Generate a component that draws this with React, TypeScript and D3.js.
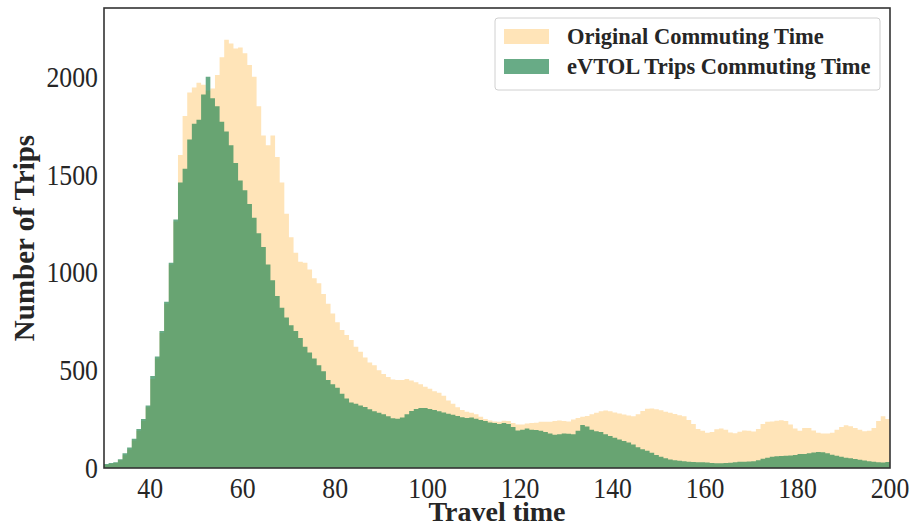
import { useEffect, useRef } from "react";
import * as d3 from "d3";

// histogram bins, 1-minute wide, starting at 30
const binStart = 30;
const binEnd = 200;

const originalCounts = [
  15, 20, 25, 40, 65, 95, 140, 190, 240, 310,
  455, 560, 690, 840, 1040, 1260, 1600, 1800, 1920, 1945,
  1970, 1960, 1930, 1940, 2010, 2100, 2190, 2170, 2145, 2150,
  2120, 2060, 2000, 1850, 1700, 1650, 1700, 1590, 1460, 1300,
  1180, 1100, 1055, 1050, 1015, 970, 945, 890, 840, 790,
  745, 705, 680, 655, 620, 595, 565, 540, 525, 500,
  480, 465, 452, 450, 450, 455, 448, 438, 428, 415,
  405, 392, 385, 370, 345, 328, 310, 296, 288, 283,
  275, 262, 250, 243, 238, 237, 242, 240, 230, 222,
  222, 228, 230, 232, 236, 237, 237, 240, 243, 240,
  238, 248, 256, 262, 266, 275, 283, 290, 294, 290,
  284, 279, 273, 268, 264, 275, 292, 303, 304, 300,
  295, 288, 282, 276, 270, 264, 245, 225, 200, 190,
  180, 184, 198, 202, 196, 182, 178, 185, 192, 190,
  187, 200, 225, 237, 238, 242, 244, 240, 222, 202,
  190, 205, 205, 192, 180, 177, 177, 180, 195, 210,
  218, 214, 205, 195, 188, 190, 205, 240, 265, 250,
];

const evtolCounts = [
  20, 25, 30, 45, 75, 105, 150, 200, 250, 320,
  470, 570, 700, 850, 1050, 1270, 1460, 1530, 1680, 1760,
  1780, 1910, 2000, 1890, 1850, 1770, 1720, 1650, 1560, 1470,
  1420, 1350, 1280, 1200, 1130, 1040, 960, 880, 820, 770,
  730, 700, 665, 620, 590, 560, 525, 495, 450, 428,
  410, 380, 355, 335, 328, 320, 312, 300, 290, 283,
  275, 265, 255, 252, 258, 275, 292, 302, 307, 307,
  302, 297, 290, 284, 278, 272, 266, 260, 256, 258,
  252, 245, 240, 233, 230, 225, 230, 225, 210, 192,
  195, 202, 195, 194, 190, 184, 176, 170, 172, 176,
  175, 172, 190, 220, 212, 195, 188, 184, 172, 163,
  155, 146, 138, 130, 120, 106, 96, 88, 78, 66,
  57, 50, 44, 40, 37, 34, 32, 31, 29, 30,
  28, 25, 24, 24, 25, 27, 30, 32, 32, 33,
  35, 40, 47, 52, 57, 60, 61, 62, 64, 67,
  71, 72, 75, 79, 82, 80, 75, 68, 62, 57,
  52, 50, 46, 42, 38, 35, 32, 29, 28, 31,
];

const xTicks = [40, 60, 80, 100, 120, 140, 160, 180, 200];
const yTicks = [0, 500, 1000, 1500, 2000];

const seriesNames = ["Original Commuting Time", "eVTOL Trips Commuting Time"];

const width = 915;
const height = 526;
const margin = { top: 8, right: 25, bottom: 58, left: 104 };
const serif = "'Liberation Serif', 'Times New Roman', serif";
const ink = "#262626";

export default function App() {
  const ref = useRef<SVGSVGElement>(null);

  useEffect(() => {
    const svg = d3.select(ref.current);
    svg.selectAll("*").remove();

    const x = d3
      .scaleLinear()
      .domain([binStart, binEnd])
      .range([margin.left, width - margin.right]);
    const y = d3
      .scaleLinear()
      .domain([0, 2352])
      .range([height - margin.bottom, margin.top]);

    // step outline of a histogram, closed at 200
    const toPoints = (counts: number[]) => {
      const pts: [number, number][] = counts.map((c, i) => [binStart + i, c]);
      pts.push([binStart + counts.length, counts[counts.length - 1]]);
      return pts;
    };
    const area = d3
      .area<[number, number]>()
      .curve(d3.curveStepAfter)
      .x((d) => x(d[0]))
      .y0(y(0))
      .y1((d) => y(d[1]));

    svg
      .append("path")
      .datum(toPoints(originalCounts))
      .attr("fill", "#ffe4b8")
      .attr("d", area);

    svg
      .append("path")
      .datum(toPoints(evtolCounts))
      .attr("fill", "rgb(46,139,87)")
      .attr("fill-opacity", 0.72)
      .attr("d", area);

    // tick labels (narrow serif digits), no tick marks
    svg
      .append("g")
      .selectAll("text")
      .data(xTicks)
      .join("text")
      .attr("transform", (d) => `translate(${x(d)}, ${height - margin.bottom + 30}) scale(0.86, 1)`)
      .attr("text-anchor", "middle")
      .attr("font-family", serif)
      .attr("font-size", 30)
      .attr("fill", ink)
      .text((d) => d);

    svg
      .append("g")
      .selectAll("text")
      .data(yTicks)
      .join("text")
      .attr("transform", (d) => `translate(${margin.left - 6}, ${y(d) + 10}) scale(0.86, 1)`)
      .attr("text-anchor", "end")
      .attr("font-family", serif)
      .attr("font-size", 30)
      .attr("fill", ink)
      .text((d) => d);

    // frame
    svg
      .append("rect")
      .attr("x", margin.left)
      .attr("y", margin.top)
      .attr("width", width - margin.left - margin.right)
      .attr("height", height - margin.top - margin.bottom)
      .attr("fill", "none")
      .attr("stroke", "#333")
      .attr("stroke-width", 1.6);

    svg
      .append("text")
      .attr("x", (margin.left + width - margin.right) / 2)
      .attr("y", height - 5)
      .attr("text-anchor", "middle")
      .attr("font-family", serif)
      .attr("font-weight", "bold")
      .attr("font-size", 28)
      .attr("fill", ink)
      .text("Travel time");

    svg
      .append("text")
      .attr("transform", `translate(34, ${(margin.top + height - margin.bottom) / 2}) rotate(-90)`)
      .attr("text-anchor", "middle")
      .attr("font-family", serif)
      .attr("font-weight", "bold")
      .attr("font-size", 29)
      .attr("fill", ink)
      .text("Number of Trips");

    // legend
    const lg = svg.append("g").attr("transform", "translate(495, 18)");
    lg.append("rect")
      .attr("width", 385)
      .attr("height", 72)
      .attr("rx", 3)
      .attr("fill", "white")
      .attr("fill-opacity", 0.8)
      .attr("stroke", "#d0d0d0");
    const colors = ["#ffe4b8", "rgba(46,139,87,0.72)"];
    seriesNames.forEach((name, i) => {
      lg.append("rect")
        .attr("x", 9)
        .attr("y", 11 + i * 30)
        .attr("width", 45)
        .attr("height", 15)
        .attr("fill", colors[i]);
      lg.append("text")
        .attr("x", 72)
        .attr("y", 26 + i * 30)
        .attr("font-family", serif)
        .attr("font-weight", "bold")
        .attr("font-size", 22.5)
        .attr("fill", ink)
        .text(name);
    });
  }, []);

  return (
    <svg
      ref={ref}
      width={width}
      height={height}
      style={{ position: "absolute", left: 0, top: 0, background: "white" }}
    />
  );
}
